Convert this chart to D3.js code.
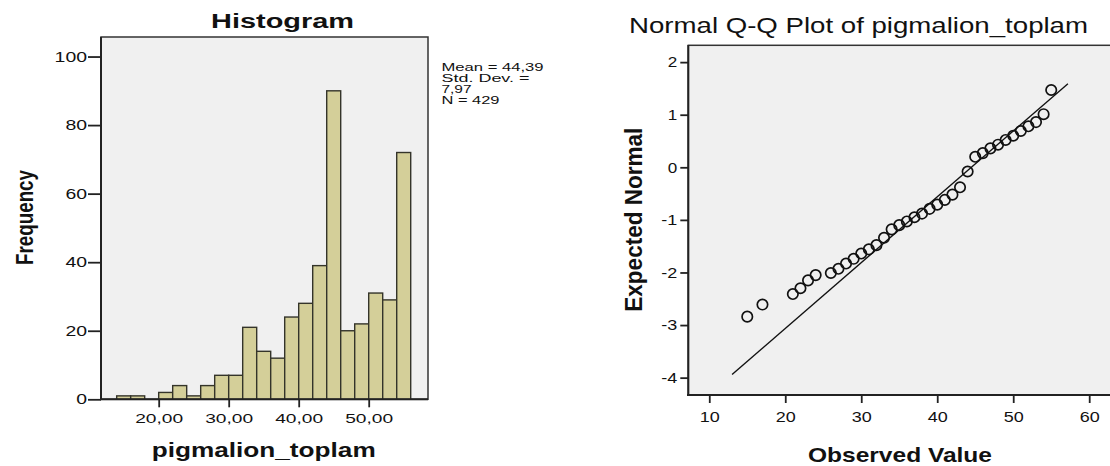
<!DOCTYPE html>
<html>
<head>
<meta charset="utf-8">
<script src="https://cdn.jsdelivr.net/npm/d3@7"></script>
<style>
  body { margin: 0; background: #fff; }
  text { font-family: "Liberation Sans", Arial, sans-serif; fill: #111; }
</style>
</head>
<body>
<div id="chart"></div>
<script>
// Histogram data (bin starts, width 2)
const binStarts = [14, 16, 18, 20, 22, 24, 26, 28, 30, 32, 34, 36, 38, 40, 42, 44, 46, 48, 50, 52, 54];
const binCounts = [1, 1, 0, 2, 4, 1, 4, 7, 7, 21, 14, 12, 24, 28, 39, 90, 20, 22, 31, 29, 72];
const histYTicks = [0, 20, 40, 60, 80, 100];
const histXTicks = [20, 30, 40, 50];
const statLines = ["Mean = 44,39", "Std. Dev. =", "7,97", "N = 429"];

// Q-Q data: observed value vs expected normal
const qqObserved = [15, 17, 21, 22, 23, 24, 26, 27, 28, 29, 30, 31, 32, 33, 34, 35, 36, 37, 38, 39, 40,
                    41, 42, 43, 44, 45, 46, 47, 48, 49, 50, 51, 52, 53, 54, 55];
const qqExpected = [-2.84, -2.61, -2.41, -2.30, -2.15, -2.05, -2.01, -1.93, -1.83, -1.74, -1.64, -1.56,
                    -1.48, -1.34, -1.18, -1.10, -1.03, -0.95, -0.88, -0.79, -0.71, -0.62, -0.52, -0.38,
                    -0.08, 0.20, 0.27, 0.36, 0.43, 0.52, 0.60, 0.69, 0.78, 0.86, 1.01, 1.47];
const refLineX = [13, 57.2];
const refLineY = [-3.94, 1.59];
const qqXTicks = [10, 20, 30, 40, 50, 60];
const qqYTicks = [-4, -3, -2, -1, 0, 1, 2];

const svg = d3.select("#chart").append("svg")
    .attr("width", 1110)
    .attr("height", 466);

// stretched text helper
function addText(x, y, str, size, weight, len, anchor) {
    return svg.append("text")
        .attr("x", x).attr("y", y)
        .attr("text-anchor", anchor || "start")
        .attr("textLength", len)
        .attr("lengthAdjust", "spacingAndGlyphs")
        .style("font-size", size + "px")
        .style("font-weight", weight)
        .text(str);
}

// ---------- Histogram ----------
const hx = d3.scaleLinear().domain([11.76, 58.47]).range([101, 428]);
const hy = d3.scaleLinear().domain([0, 105.7]).range([399.3, 37]);

svg.append("rect")
    .attr("x", 101).attr("y", 37)
    .attr("width", 327).attr("height", 362.3)
    .attr("fill", "#f0f0f0")
    .attr("stroke", "#333")
    .attr("stroke-width", 1.5);

svg.selectAll(".bar")
    .data(binStarts)
    .enter().append("rect")
    .attr("class", "bar")
    .attr("x", d => hx(d))
    .attr("width", d => hx(d + 2) - hx(d))
    .attr("y", (d, i) => hy(binCounts[i]))
    .attr("height", (d, i) => hy(0) - hy(binCounts[i]))
    .attr("fill", "#d4cf99")
    .attr("stroke", "#34342a")
    .attr("stroke-width", 1.4);

const hYAxis = svg.append("g")
    .attr("transform", "translate(101,0)")
    .call(d3.axisLeft(hy).tickValues(histYTicks).tickSize(13).tickPadding(1));
hYAxis.selectAll("text")
    .style("font-size", "14px")
    .attr("textLength", d => String(d).length * 10.8)
    .attr("lengthAdjust", "spacingAndGlyphs");

const hXAxis = svg.append("g")
    .attr("transform", "translate(0,399.3)")
    .call(d3.axisBottom(hx).tickValues(histXTicks).tickFormat(d => d + ",00").tickSize(8).tickPadding(6));
hXAxis.selectAll("text")
    .style("font-size", "13px")
    .attr("textLength", 48)
    .attr("lengthAdjust", "spacingAndGlyphs");

[hYAxis, hXAxis].forEach(a => {
    a.select(".domain").remove();
    a.selectAll("line").attr("stroke", "#222").attr("stroke-width", 1.8);
});

// heavier left and bottom frame lines
svg.append("line").attr("x1", 101).attr("x2", 101).attr("y1", 37).attr("y2", 400)
    .attr("stroke", "#222").attr("stroke-width", 2);
svg.append("line").attr("x1", 100).attr("x2", 428).attr("y1", 399.3).attr("y2", 399.3)
    .attr("stroke", "#222").attr("stroke-width", 2);

addText(282.5, 28.3, "Histogram", 19.5, "bold", 143, "middle");
addText(263.7, 456.7, "pigmalion_toplam", 20, "bold", 224, "middle");

svg.append("text")
    .attr("transform", "translate(33,217.5) scale(1.3,1) rotate(-90)")
    .attr("text-anchor", "middle")
    .attr("textLength", 95)
    .attr("lengthAdjust", "spacingAndGlyphs")
    .style("font-size", "18px")
    .style("font-weight", "bold")
    .text("Frequency");

const statLens = [102, 88, 30, 58];
const statY = [70.5, 81.5, 92.5, 103.5];
statLines.forEach((s, i) => addText(441.5, statY[i], s, 10.5, "normal", statLens[i]));

// ---------- Normal Q-Q plot ----------
const qx = d3.scaleLinear().domain([7.24, 63]).range([688.3, 1112]);
const qy = d3.scaleLinear().domain([-4.33, 2.32]).range([395, 45.3]);

svg.append("rect")
    .attr("x", 688.3).attr("y", 45.3)
    .attr("width", 430).attr("height", 349.7)
    .attr("fill", "#f0f0f0")
    .attr("stroke", "#333")
    .attr("stroke-width", 1.5);

const qYAxis = svg.append("g")
    .attr("transform", "translate(688.3,0)")
    .call(d3.axisLeft(qy).tickValues(qqYTicks).tickFormat(d => String(d)).tickSize(8).tickPadding(3));
qYAxis.selectAll("text")
    .style("font-size", "15px")
    .attr("textLength", d => (d < 0 ? 16 : 9.5))
    .attr("lengthAdjust", "spacingAndGlyphs");

const qXAxis = svg.append("g")
    .attr("transform", "translate(0,395)")
    .call(d3.axisBottom(qx).tickValues(qqXTicks).tickSize(8).tickPadding(8));
qXAxis.selectAll("text")
    .style("font-size", "15px")
    .attr("textLength", 20)
    .attr("lengthAdjust", "spacingAndGlyphs");

[qYAxis, qXAxis].forEach(a => {
    a.select(".domain").remove();
    a.selectAll("line").attr("stroke", "#222").attr("stroke-width", 1.8);
});

svg.append("line").attr("x1", 688.3).attr("x2", 688.3).attr("y1", 45).attr("y2", 396)
    .attr("stroke", "#222").attr("stroke-width", 2);
svg.append("line").attr("x1", 687).attr("x2", 1110).attr("y1", 395).attr("y2", 395)
    .attr("stroke", "#222").attr("stroke-width", 2);

// reference line
svg.append("line")
    .attr("x1", qx(refLineX[0])).attr("y1", qy(refLineY[0]))
    .attr("x2", qx(refLineX[1])).attr("y2", qy(refLineY[1]))
    .attr("stroke", "#111")
    .attr("stroke-width", 1.4);

svg.selectAll(".pt")
    .data(qqObserved)
    .enter().append("circle")
    .attr("class", "pt")
    .attr("cx", d => qx(d))
    .attr("cy", (d, i) => qy(qqExpected[i]))
    .attr("r", 5.2)
    .attr("fill", "none")
    .attr("stroke", "#111")
    .attr("stroke-width", 1.7);

addText(858.5, 33.3, "Normal Q-Q Plot of pigmalion_toplam", 22, "normal", 459, "middle");
addText(900, 461.7, "Observed Value", 21, "bold", 184, "middle");

svg.append("text")
    .attr("transform", "translate(641.7,219.7) scale(1.2,1) rotate(-90)")
    .attr("text-anchor", "middle")
    .attr("textLength", 184)
    .attr("lengthAdjust", "spacingAndGlyphs")
    .style("font-size", "20px")
    .style("font-weight", "bold")
    .text("Expected Normal");
</script>
</body>
</html>
